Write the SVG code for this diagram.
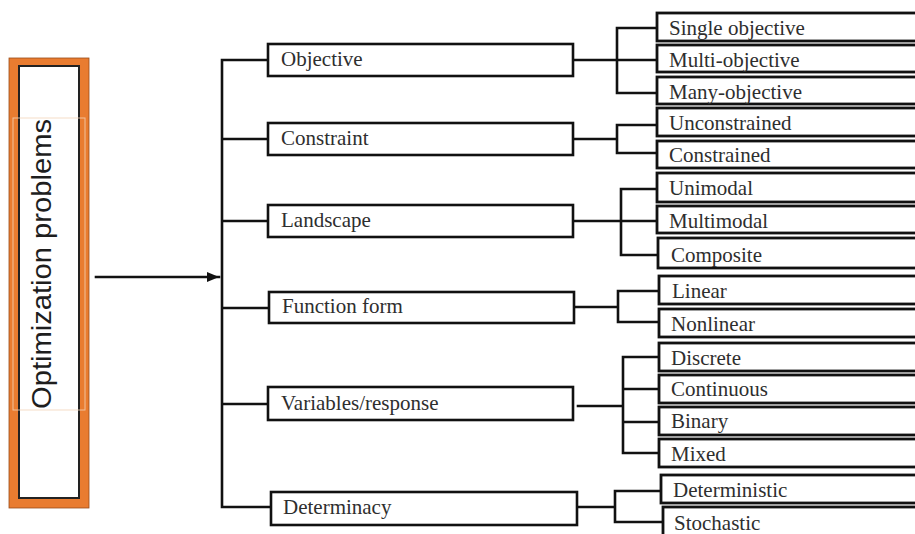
<svg xmlns="http://www.w3.org/2000/svg" width="915" height="534" viewBox="0 0 915 534">
  <style>
    .bg { fill: #ffffff; }
    .box { fill: #ffffff; stroke: #111111; stroke-width: 2.6; }
    .leaf { fill: #ffffff; stroke: #111111; stroke-width: 2.8; }
    .label { font-family: "Liberation Serif", "Times New Roman", serif; font-size: 21px; fill: #2e2e2e; }
    .title { font-family: "Liberation Sans", Arial, sans-serif; font-size: 27px; fill: #1e1e1e; }
    .wire { fill: none; stroke: #111111; stroke-width: 2.6; stroke-linecap: square; }
  </style>
  <defs>
    <marker id="arrow" viewBox="0 0 12 10" refX="12" refY="5" markerWidth="12" markerHeight="10" markerUnits="userSpaceOnUse" orient="auto">
      <path d="M0,0 L12,5 L0,10 Z" fill="#111111"/>
    </marker>
  </defs>

  <rect class="bg" x="0" y="0" width="915" height="534"/>

  <!-- Root node: framed vertical title -->
  <g id="root">
    <rect x="9" y="58" width="80" height="450" fill="#E97C30" stroke="#9a4d1a" stroke-width="0.8"/>
    <rect x="19" y="66" width="60" height="432" fill="#ffffff" stroke="#222222" stroke-width="2"/>
    <rect x="13" y="118" width="72" height="292" fill="none" stroke="#f3d3b8" stroke-width="1" opacity="0.8"/>
    <text class="title" transform="translate(51,264) rotate(-90)" text-anchor="middle" textLength="290" lengthAdjust="spacingAndGlyphs">Optimization problems</text>
  </g>

  <!-- Connectors -->
  <g id="connectors">
    <line class="wire" x1="96" y1="277" x2="219" y2="277" marker-end="url(#arrow)" stroke-linecap="butt" stroke-width="2.8"/>
    <!-- trunk and category branches -->
    <path class="wire" d="M222,60 V507 M222,60 H268 M222,139 H268 M222,221 H268 M222,308 H269 M222,404 H268 M222,507 H271"/>
    <!-- Objective -->
    <path class="wire" d="M573,60 H617 M617,28 V93 M617,28 H655 M617,60 H655 M617,93 H655"/>
    <!-- Constraint -->
    <path class="wire" d="M573,139 H617 M617,125 V153 M617,125 H655 M617,153 H655"/>
    <!-- Landscape -->
    <path class="wire" d="M573,221 H621 M621,189 V255 M621,189 H656 M621,221 H656 M621,255 H656"/>
    <!-- Function form -->
    <path class="wire" d="M574,307 H618 M618,291 V322 M618,291 H658 M618,322 H658"/>
    <!-- Variables/response -->
    <path class="wire" d="M578,406 H623 M623,357 V453 M623,357 H658 M623,389 H658 M623,422 H658 M623,453 H658"/>
    <!-- Determinacy -->
    <path class="wire" d="M577,507 H615 M615,491 V522 M615,491 H659 M615,522 H661"/>
  </g>

  <!-- Category nodes -->
  <g id="objective"><rect class="box" x="268" y="44" width="305" height="32"/><text class="label" x="281" y="66">Objective</text></g>
  <g id="constraint"><rect class="box" x="268" y="123" width="305" height="32"/><text class="label" x="281" y="145">Constraint</text></g>
  <g id="landscape"><rect class="box" x="268" y="205" width="305" height="32"/><text class="label" x="281" y="227">Landscape</text></g>
  <g id="function-form"><rect class="box" x="269" y="292" width="305" height="31"/><text class="label" x="282" y="313">Function form</text></g>
  <g id="variables-response"><rect class="box" x="268" y="387" width="305" height="33"/><text class="label" x="281" y="410">Variables/response</text></g>
  <g id="determinacy"><rect class="box" x="271" y="492" width="306" height="33"/><text class="label" x="283" y="514">Determinacy</text></g>

  <!-- Leaf nodes -->
  <g id="single-objective"><rect class="leaf" x="657" y="13" width="280" height="28"/><text class="label" x="669" y="35">Single objective</text></g>
  <g id="multi-objective"><rect class="leaf" x="657" y="45" width="280" height="27"/><text class="label" x="669" y="67">Multi-objective</text></g>
  <g id="many-objective"><rect class="leaf" x="657" y="77" width="280" height="27"/><text class="label" x="669" y="99">Many-objective</text></g>
  <g id="unconstrained"><rect class="leaf" x="657" y="108" width="280" height="28"/><text class="label" x="669" y="130">Unconstrained</text></g>
  <g id="constrained"><rect class="leaf" x="657" y="141" width="280" height="27"/><text class="label" x="669" y="162">Constrained</text></g>
  <g id="unimodal"><rect class="leaf" x="657" y="173" width="280" height="29"/><text class="label" x="669" y="195">Unimodal</text></g>
  <g id="multimodal"><rect class="leaf" x="657" y="206" width="280" height="27"/><text class="label" x="669" y="228">Multimodal</text></g>
  <g id="composite"><rect class="leaf" x="658" y="238" width="280" height="30"/><text class="label" x="671" y="262">Composite</text></g>
  <g id="linear"><rect class="leaf" x="659" y="276" width="280" height="28"/><text class="label" x="672" y="298">Linear</text></g>
  <g id="nonlinear"><rect class="leaf" x="659" y="309" width="280" height="28"/><text class="label" x="671" y="331">Nonlinear</text></g>
  <g id="discrete"><rect class="leaf" x="659" y="343" width="280" height="28"/><text class="label" x="671" y="365">Discrete</text></g>
  <g id="continuous"><rect class="leaf" x="659" y="375" width="280" height="28"/><text class="label" x="671" y="396">Continuous</text></g>
  <g id="binary"><rect class="leaf" x="659" y="407" width="280" height="28"/><text class="label" x="671" y="428">Binary</text></g>
  <g id="mixed"><rect class="leaf" x="659" y="439" width="280" height="28"/><text class="label" x="671" y="461">Mixed</text></g>
  <g id="deterministic"><rect class="leaf" x="661" y="475" width="280" height="28"/><text class="label" x="673" y="497">Deterministic</text></g>
  <g id="stochastic"><rect class="leaf" x="663" y="507" width="280" height="35"/><text class="label" x="674" y="530">Stochastic</text></g>
</svg>
